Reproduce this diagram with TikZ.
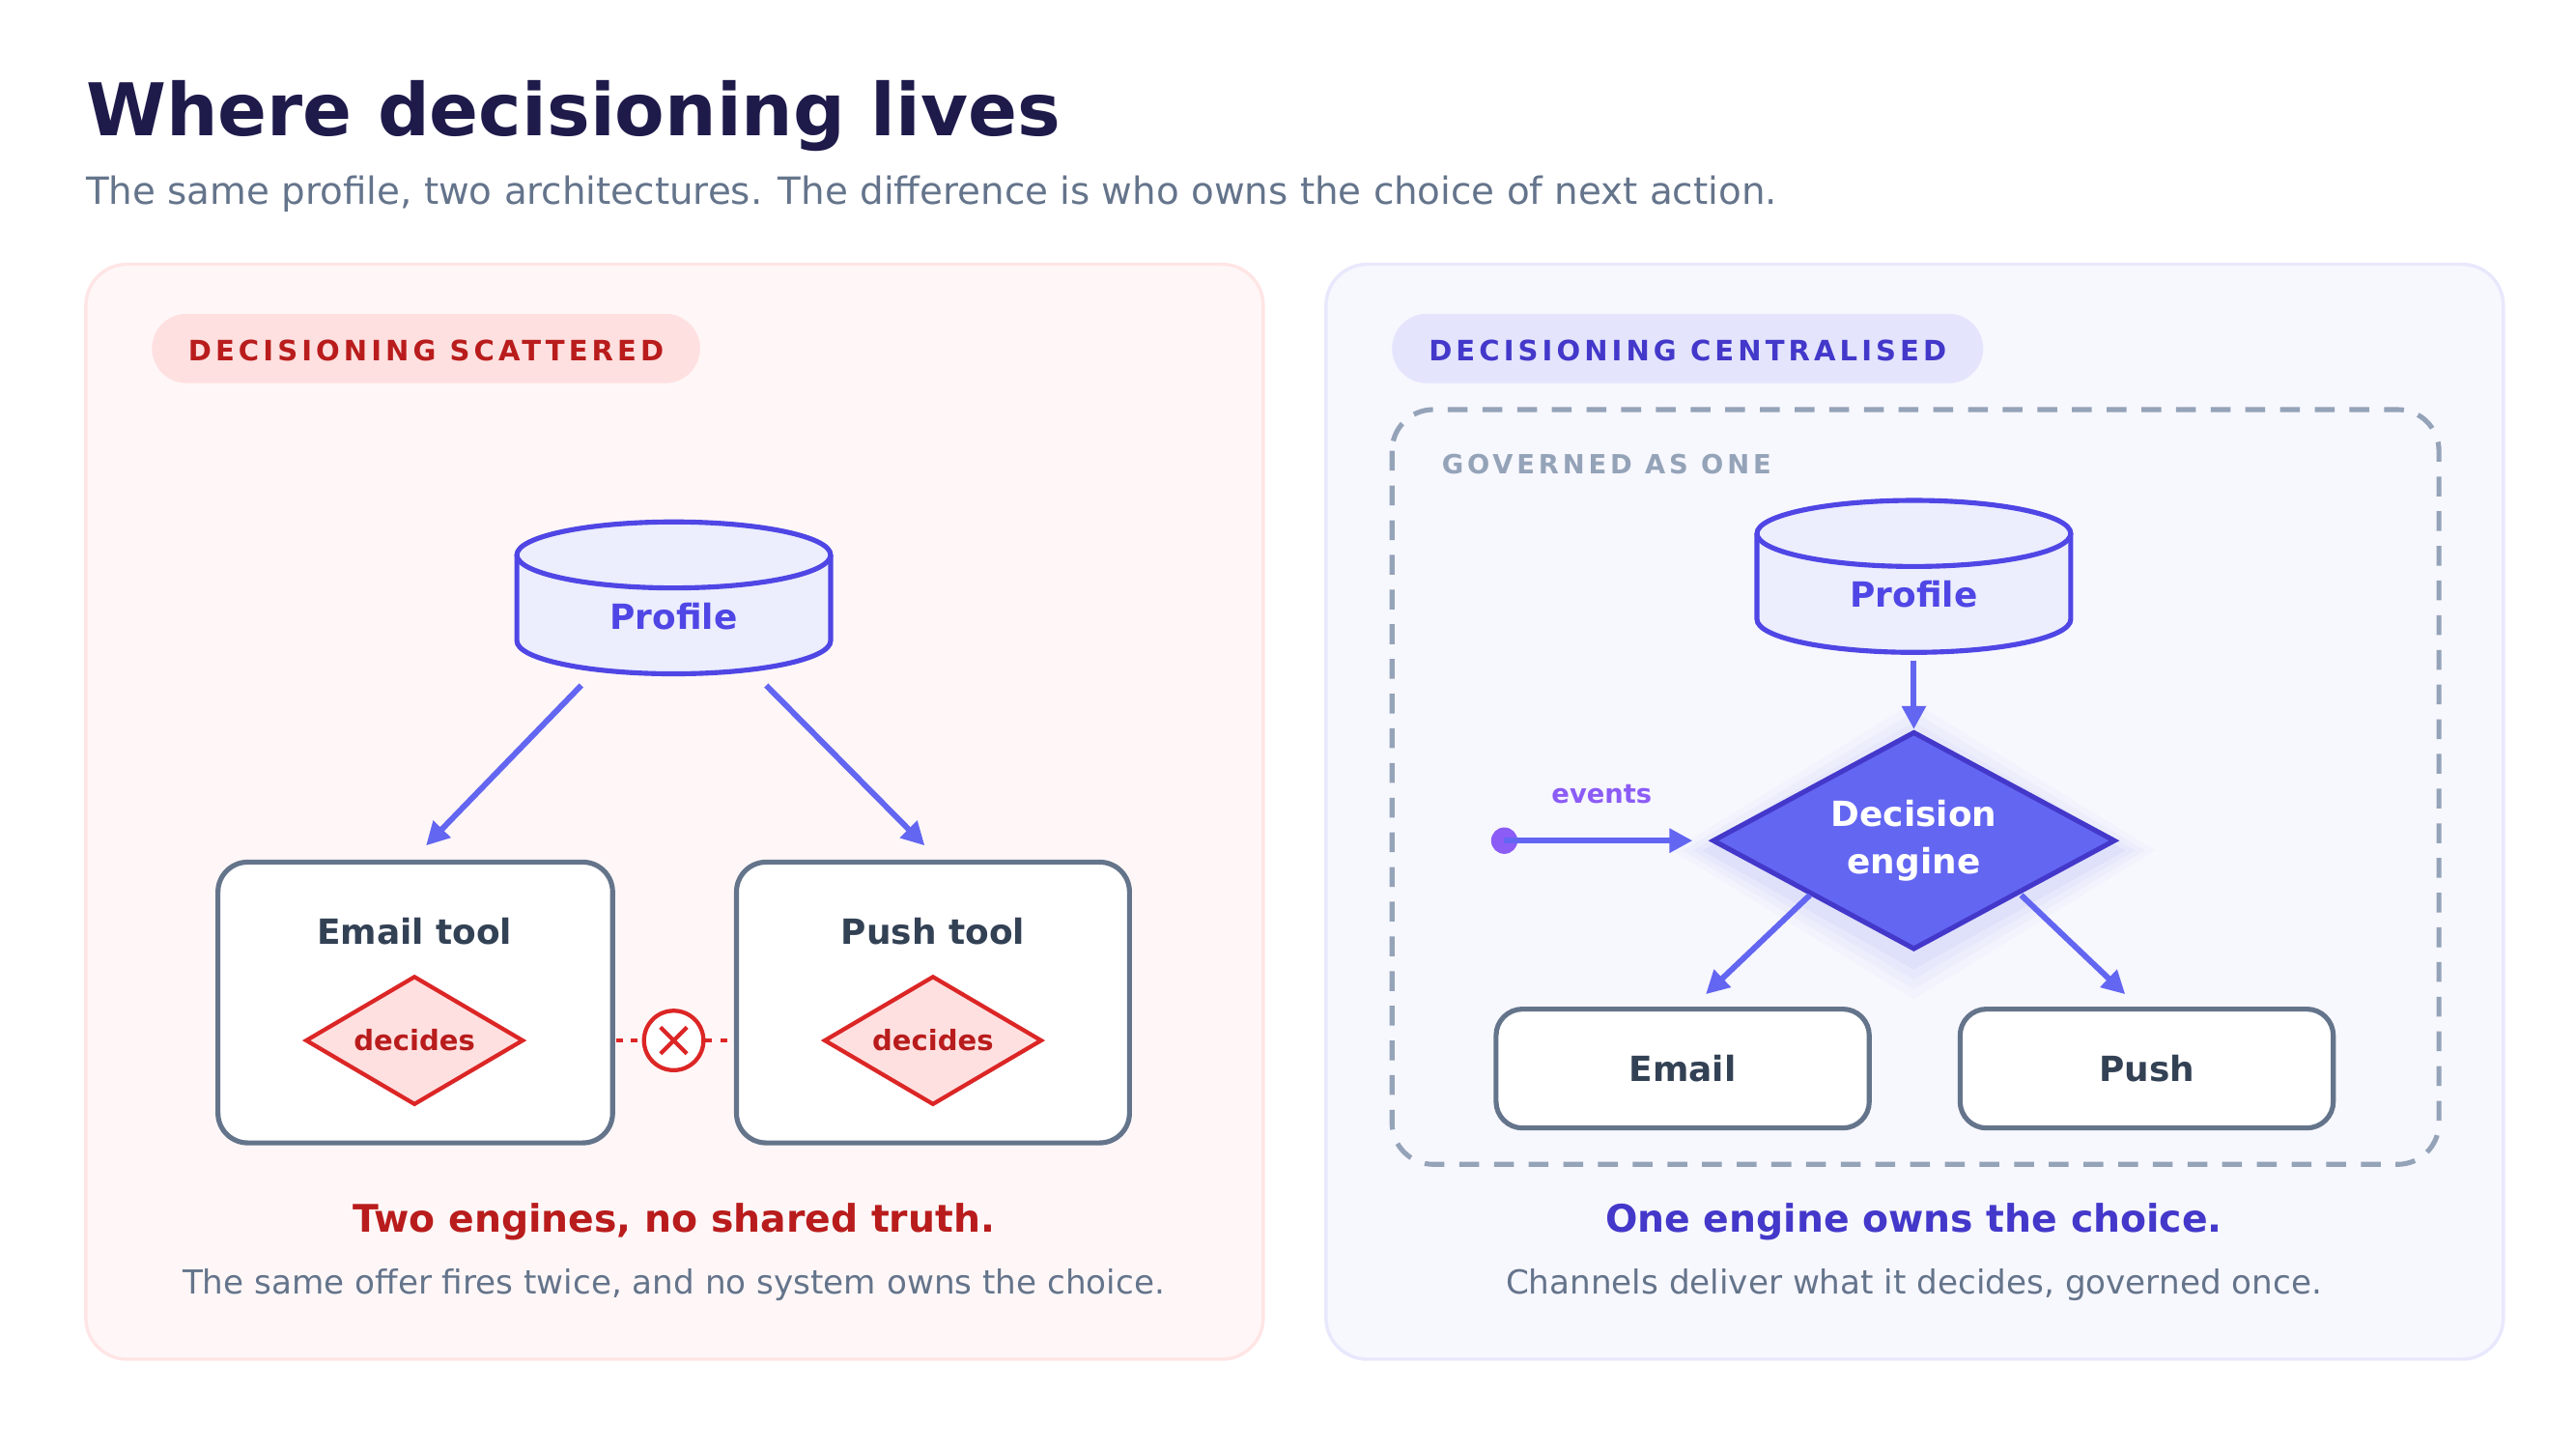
\documentclass[tikz,border=0pt]{standalone}
\usepackage{fontspec}
\setmainfont{DejaVu Sans}
\newfontfamily\spaced{DejaVu Sans}[LetterSpace=14]
\usetikzlibrary{arrows.meta,shapes.geometric}
\definecolor{ink}{HTML}{1E1B4B}
\definecolor{sub}{HTML}{64748B}
\definecolor{slate}{HTML}{64748B}
\definecolor{dark}{HTML}{334155}
\definecolor{ind}{HTML}{4F46E5}
\definecolor{indd}{HTML}{4338CA}
\definecolor{indl}{HTML}{6366F1}
\definecolor{red1}{HTML}{DC2626}
\definecolor{red2}{HTML}{B91C1C}
\definecolor{gov}{HTML}{94A3B8}
\definecolor{evt}{HTML}{8B5CF6}
\tikzset{
 fs/.style={font=\fontsize{#1}{#1}\selectfont},
 arr/.style={draw=indl,line width=3.5pt,-{Triangle[length=14pt,width=14pt]}},
 tool/.style={draw=slate,line width=3pt,fill=white,rounded corners=18pt},
 dec/.style={diamond,draw=red1,fill=red!12,line width=2.5pt,minimum width=132pt,minimum height=78pt,inner sep=0pt,aspect=1.7,text=red2,font=\bfseries\fontsize{17}{17}\selectfont},
 cyl/.style={draw=ind,line width=3pt,fill=indl!12},
}
\newcommand{\cylin}[3]{% cx, ytop, ybot
 \path[cyl] (#1-95,#2) -- (#1-95,#3) arc[start angle=180,end angle=0,x radius=95,y radius=20] -- (#1+95,#2);
 \path[cyl] (#1,#2) ellipse[x radius=95,y radius=20];
}
\begin{document}
\begin{tikzpicture}[x=1pt,y=-1pt]
\useasboundingbox[fill=white] (0,0) rectangle (1560,877.5);
\node[anchor=base west,text=ink,font=\bfseries\fontsize{44}{44}\selectfont,inner sep=0] (title) at (52,82) {Where decisioning lives};
\node[anchor=base west,text=sub,fs=22.7,inner sep=0] (subt) at (52,124) {The same profile, two architectures. The difference is who owns the choice of next action.};
% left panel
\draw[fill=red!3,draw=red!10,line width=2pt,rounded corners=25pt] (52,160) rectangle (765,823);
\draw[fill=red!12,draw=none,rounded corners=21pt] (92,190) rectangle (424,232);
\node[text=red2,font=\spaced\bfseries\fontsize{17}{17}\selectfont] (pl) at (258,212) {DECISIONING SCATTERED};
\cylin{408}{336}{388}
\node[text=ind,font=\bfseries\fontsize{21}{21}\selectfont] (prof1) at (408,373) {Profile};
\coordinate (p1a) at (352,415); \coordinate (p1b) at (464,415);
\draw[tool] (132,522) rectangle (371,692);
\draw[tool] (446,522) rectangle (684,692);
\node[text=dark,font=\bfseries\fontsize{21}{21}\selectfont] (emt) at (251,564) {Email tool};
\node[text=dark,font=\bfseries\fontsize{21}{21}\selectfont] (pst) at (565,564) {Push tool};
\coordinate (emtop) at (258,512); \coordinate (pstop) at (560,512);
\draw[arr] (p1a) -- (emtop);
\draw[arr] (p1b) -- (pstop);
\node[dec] (d1) at (251,630) {decides};
\node[dec] (d2) at (565,630) {decides};
\node[circle,draw=red1,line width=2.5pt,minimum size=36pt,fill=white] (x) at (408,630) {};
\draw[red1,line width=2.5pt,dash pattern=on 4pt off 5pt] (373,630) -- (x.west);
\draw[red1,line width=2.5pt,dash pattern=on 4pt off 5pt] (x.east) -- (444,630);
\draw[red1,line width=2.5pt] (400,622) -- (416,638) (400,638) -- (416,622);
\node[text=red2,font=\bfseries\fontsize{23}{23}\selectfont] (t1) at (408,740) {Two engines, no shared truth.};
\node[text=sub,fs=20] (s1) at (408,778) {The same offer fires twice, and no system owns the choice.};
% right panel
\draw[fill=indl!5,draw=indl!15,line width=2pt,rounded corners=25pt] (803,160) rectangle (1516,823);
\draw[fill=indl!17,draw=none,rounded corners=21pt] (843,190) rectangle (1201,232);
\node[text=indd,font=\spaced\bfseries\fontsize{17}{17}\selectfont] (pr) at (1022,212) {DECISIONING CENTRALISED};
\draw[gov,line width=3pt,dash pattern=on 12pt off 9pt,rounded corners=25pt] (843,248) rectangle (1477,705);
\node[anchor=base west,text=gov,font=\spaced\bfseries\fontsize{16}{16}\selectfont,inner sep=0] (govl) at (873,287) {GOVERNED AS ONE};
\cylin{1159}{323}{375}
\node[text=ind,font=\bfseries\fontsize{21}{21}\selectfont] (prof2) at (1159,360) {Profile};
\coordinate (p2) at (1159,400);
% shadow
\foreach \k/\o in {24/0.025,18/0.035,12/0.045,6/0.06}
  \fill[indl,opacity=\o] (1159-122-\k,509+6) -- (1159,443+6-\k) -- (1159+122+\k,509+6) -- (1159,575+6+\k) -- cycle;
\node[diamond,fill=indl,draw=indd,line width=3pt,minimum width=244pt,minimum height=132pt,aspect=1.85,inner sep=0pt,text=white,align=center,font=\bfseries\fontsize{21}{29}\selectfont] (eng) at (1159,509) {Decision\\engine};
\draw[arr] (p2) -- (eng.north);
\fill[evt] (911,509) circle (8pt);
\coordinate (ev) at (911,509);
\draw[arr] (ev) -- (1025,509);
\node[text=evt,font=\bfseries\fontsize{16}{16}\selectfont] (evl) at (970,481) {events};
\node[tool,minimum width=226pt,minimum height=72pt,rounded corners=16pt,text=dark,font=\bfseries\fontsize{21}{21}\selectfont] (em) at (1019,647) {Email};
\node[tool,minimum width=226pt,minimum height=72pt,rounded corners=16pt,text=dark,font=\bfseries\fontsize{21}{21}\selectfont] (ps) at (1300,647) {Push};
\coordinate (e1) at (1096,542); \coordinate (e2) at (1224,542);
\draw[arr] (e1) -- (1033,602);
\draw[arr] (e2) -- (1287,602);
\node[text=indd,font=\bfseries\fontsize{23}{23}\selectfont] (t2) at (1159,740) {One engine owns the choice.};
\node[text=sub,fs=20] (s2) at (1159,778) {Channels deliver what it decides, governed once.};
\end{tikzpicture}
\end{document}
